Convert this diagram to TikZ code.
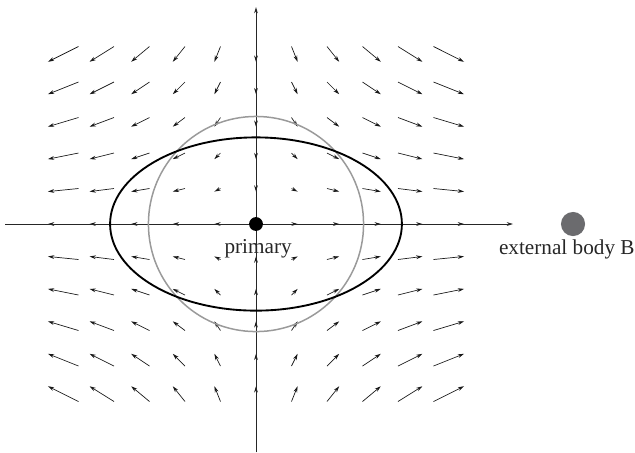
\documentclass[tikz,border=0pt]{standalone}
\usepackage{fontspec}
\setmainfont{Liberation Serif}
\usetikzlibrary{arrows.meta,positioning}
\definecolor{ringgray}{HTML}{9A9A9A}
\definecolor{bodygray}{HTML}{6B6B6E}

\begin{document}
\begin{tikzpicture}[
  field/.style={-{Stealth[length=5pt,width=3pt]},line width=0.55pt,black!90},
  axis/.style={-{Stealth[length=5pt,width=3pt]},line width=0.65pt,black!85},
  lbl/.style={font=\fontsize{17}{20}\selectfont,text=black!85,inner sep=0pt},
]
  \useasboundingbox (-7.211,-6.423) rectangle (10.676,6.310);

  % tidal field on the grid
  \foreach \i in {-5,...,5} {
    \foreach \j in {-5,...,5} {
      \pgfmathtruncatemacro{\r}{abs(\i)+abs(\j)}
      \ifnum\r>0
        \draw[field] (\i,\j) -- ++({0.172*\i},{-0.086*\j});
      \fi
    }
  }

  % axes
  \draw[axis] (-7.07,0) -- (7.24,0);
  \draw[axis] (0,-6.43) -- (0,6.11);

  % undeformed and deformed primary
  \draw[ringgray,line width=1.2pt] (0,0) circle (3.03);
  \draw[black,line width=1.5pt] (0,0) ellipse (4.11 and 2.44);

  % bodies
  \node[circle,fill=black,minimum size=0.39cm,inner sep=0pt] (primary) at (0,0) {};
  \node[circle,fill=bodygray,minimum size=0.68cm,inner sep=0pt] (bodyB) at (8.93,0) {};
  \node[lbl,anchor=base] (primarylbl) at (0.06,-0.82) {primary};
  \node[lbl,anchor=base west] (bodyBlbl) at (6.84,-0.87) {external body B};
\end{tikzpicture}
\end{document}
